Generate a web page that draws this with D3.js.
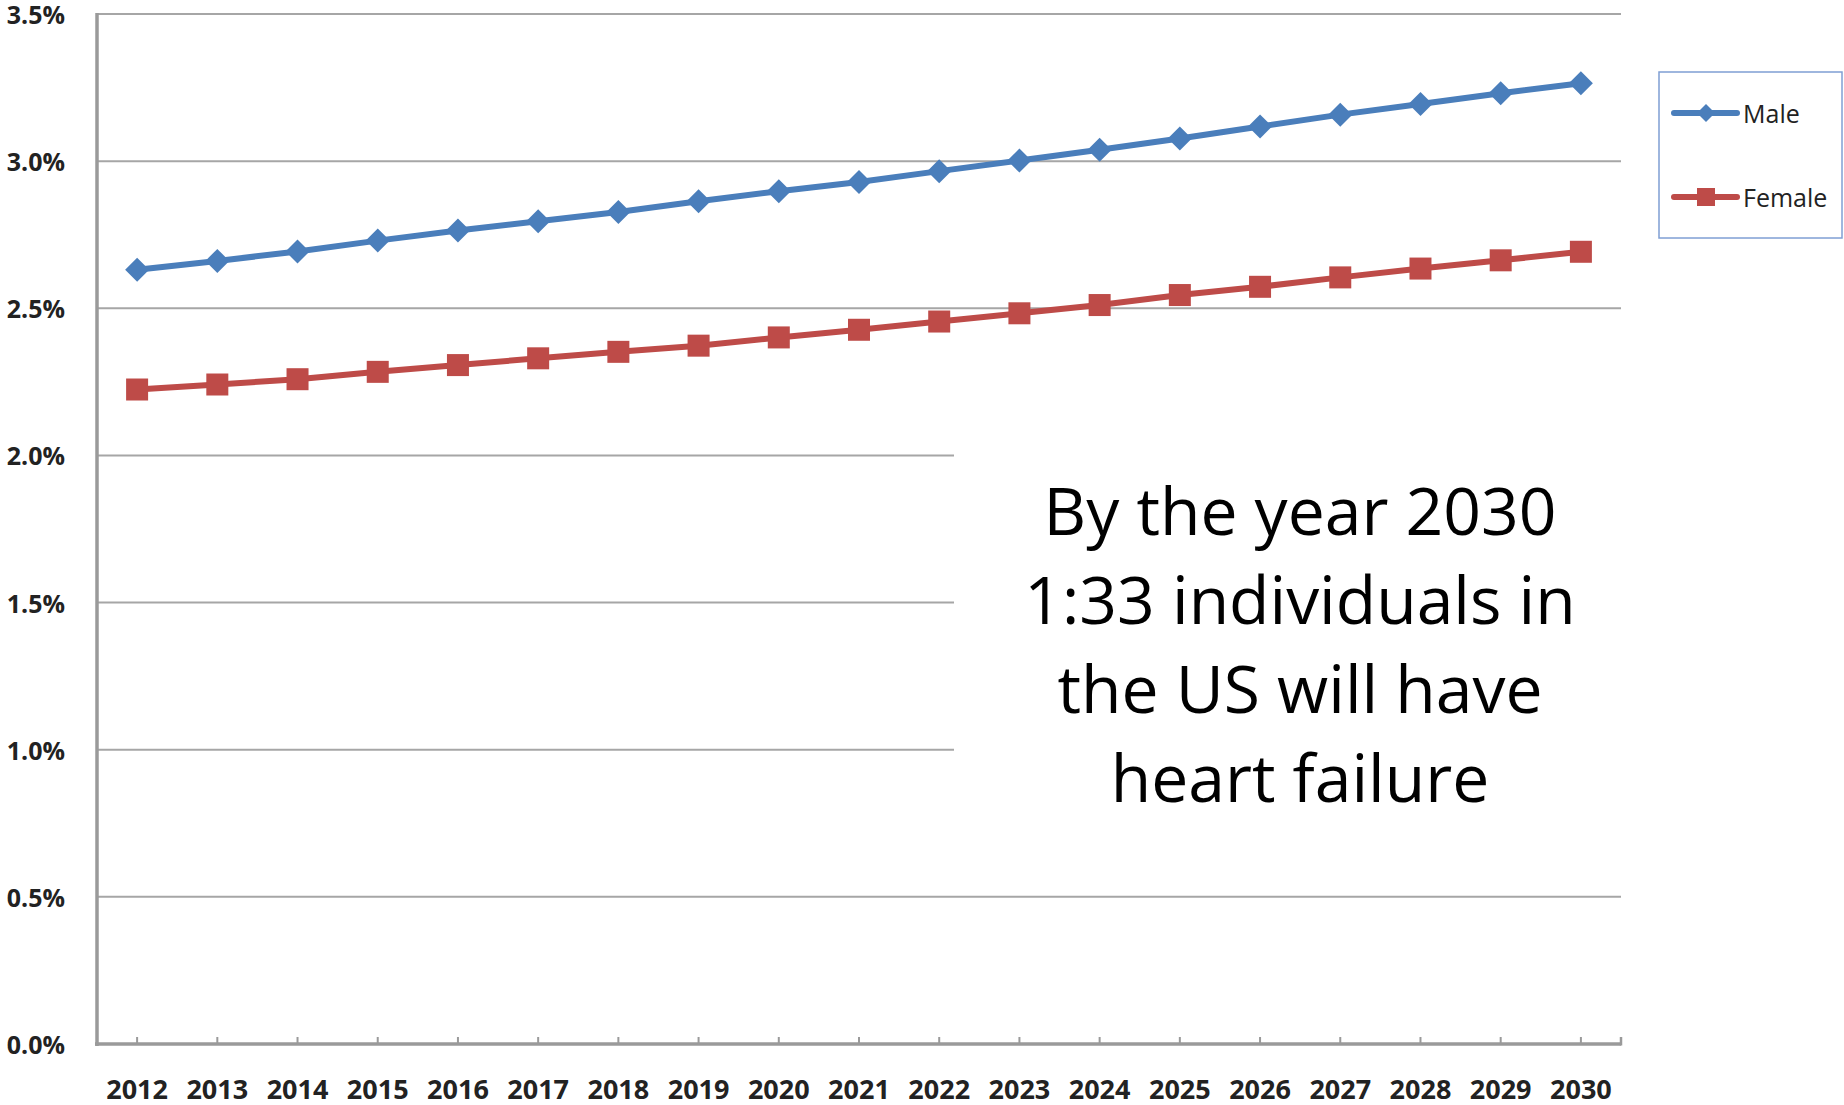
<!DOCTYPE html>
<html>
<head>
<meta charset="utf-8">
<script src="https://cdn.jsdelivr.net/npm/d3@7"></script>
<style>
  body { margin: 0; background: #fff; }
  svg { display: block; }
</style>
</head>
<body>
<svg id="chart" width="1844" height="1105"></svg>
<script>
// chart values
const years = ["2012","2013","2014","2015","2016","2017","2018","2019","2020","2021",
               "2022","2023","2024","2025","2026","2027","2028","2029","2030"];
const male = [2.631, 2.661, 2.693, 2.730, 2.764, 2.796, 2.827, 2.864, 2.898, 2.929,
              2.966, 3.002, 3.039, 3.077, 3.118, 3.158, 3.194, 3.231, 3.265];
const female = [2.224, 2.241, 2.259, 2.284, 2.307, 2.330, 2.352, 2.373, 2.401, 2.427,
                2.455, 2.483, 2.511, 2.545, 2.573, 2.605, 2.635, 2.663, 2.692];
const yTicks = [0, 0.5, 1.0, 1.5, 2.0, 2.5, 3.0, 3.5];
const seriesNames = ["Male", "Female"];
const noteLines = ["By the year 2030", "1:33 individuals in", "the US will have", "heart failure"];

const blue = "#4a7ebb", red = "#be4b48";
const gridColor = "#a6a6a6", axisColor = "#9a9a9a";

const svg = d3.select("#chart");
const plotLeft = 97, plotRight = 1621, plotTop = 14, plotBottom = 1044;

const x = d3.scaleBand().domain(years).range([plotLeft, plotRight]);
const y = d3.scaleLinear().domain([0, 3.5]).range([plotBottom, plotTop]);
const cx = d => x(d) + x.bandwidth() / 2;

// gridlines
svg.append("g").selectAll("line")
   .data(yTicks.filter(t => t > 0))
   .enter().append("line")
   .attr("x1", plotLeft).attr("x2", plotRight)
   .attr("y1", d => y(d)).attr("y2", d => y(d))
   .attr("stroke", gridColor).attr("stroke-width", 2);

// y axis labels
svg.append("g").selectAll("text")
   .data(yTicks)
   .enter().append("text")
   .attr("x", 65).attr("y", d => y(d))
   .attr("text-anchor", "end").attr("dominant-baseline", "central")
   .attr("font-family", "Open Sans, sans-serif").attr("font-weight", "bold")
   .attr("font-size", 25).attr("fill", "#222")
   .text(d => d.toFixed(1) + "%");

// axes lines
svg.append("line").attr("x1", plotLeft).attr("x2", plotLeft).attr("y1", plotTop - 1).attr("y2", plotBottom + 2)
   .attr("stroke", axisColor).attr("stroke-width", 3.5);
svg.append("line").attr("x1", plotLeft - 2).attr("x2", plotRight).attr("y1", plotBottom).attr("y2", plotBottom)
   .attr("stroke", axisColor).attr("stroke-width", 3.5);

// x ticks (pointing up) at category centres plus the right end
svg.append("g").selectAll("line")
   .data(years)
   .enter().append("line")
   .attr("x1", d => cx(d)).attr("x2", d => cx(d))
   .attr("y1", plotBottom - 7).attr("y2", plotBottom)
   .attr("stroke", axisColor).attr("stroke-width", 2);
svg.append("line").attr("x1", plotRight).attr("x2", plotRight).attr("y1", plotBottom - 7).attr("y2", plotBottom + 1.5)
   .attr("stroke", axisColor).attr("stroke-width", 2.5);

// x labels
svg.append("g").selectAll("text")
   .data(years)
   .enter().append("text")
   .attr("x", d => cx(d)).attr("y", 1088)
   .attr("text-anchor", "middle").attr("dominant-baseline", "central")
   .attr("font-family", "Open Sans, sans-serif").attr("font-weight", "bold")
   .attr("font-size", 27).attr("fill", "#222")
   .text(d => d);

// white text box covering part of the grid
svg.append("rect").attr("x", 954).attr("y", 400).attr("width", 890).attr("height", 430)
   .attr("fill", "#fff");

const note = svg.append("text")
   .attr("text-anchor", "middle")
   .attr("font-family", "Open Sans, sans-serif")
   .attr("font-size", 66).attr("fill", "#000");
note.selectAll("tspan")
   .data(noteLines)
   .enter().append("tspan")
   .attr("x", 1300)
   .attr("y", (d, i) => 535 + i * 89)
   .text(d => d);

// series
const line = d3.line().x((d, i) => cx(years[i])).y(d => y(d));

svg.append("path").datum(female).attr("d", line)
   .attr("fill", "none").attr("stroke", red).attr("stroke-width", 6);
svg.append("path").datum(male).attr("d", line)
   .attr("fill", "none").attr("stroke", blue).attr("stroke-width", 6);

const sq = 22, dm = 12;
svg.append("g").selectAll("rect")
   .data(female)
   .enter().append("rect")
   .attr("x", (d, i) => cx(years[i]) - sq / 2)
   .attr("y", d => y(d) - sq / 2)
   .attr("width", sq).attr("height", sq)
   .attr("fill", red);

const diamond = (px, py, r) => `M${px},${py - r}L${px + r},${py}L${px},${py + r}L${px - r},${py}Z`;
svg.append("g").selectAll("path")
   .data(male)
   .enter().append("path")
   .attr("d", (d, i) => diamond(cx(years[i]), y(d), dm))
   .attr("fill", blue);

// legend
const lg = svg.append("g");
lg.append("rect").attr("x", 1659).attr("y", 72).attr("width", 183).attr("height", 166)
  .attr("fill", "#fff").attr("stroke", "#7f9fd4").attr("stroke-width", 1.5);

const legendY = [113, 197];
const colors = [blue, red];
seriesNames.forEach(function(name, i){
    let ly = legendY[i];
    lg.append("line").attr("x1", 1674).attr("x2", 1737).attr("y1", ly).attr("y2", ly)
      .attr("stroke", colors[i]).attr("stroke-width", 6).attr("stroke-linecap", "round");
    if (i === 0){
        lg.append("path").attr("d", diamond(1706, ly, 9)).attr("fill", blue);
    } else {
        lg.append("rect").attr("x", 1697).attr("y", ly - 9).attr("width", 18).attr("height", 18)
          .attr("fill", red);
    }
    lg.append("text").attr("x", 1743).attr("y", ly)
      .attr("dominant-baseline", "central")
      .attr("font-family", "Open Sans, sans-serif")
      .attr("font-size", 25).attr("fill", "#222")
      .text(name);
});
</script>
</body>
</html>
